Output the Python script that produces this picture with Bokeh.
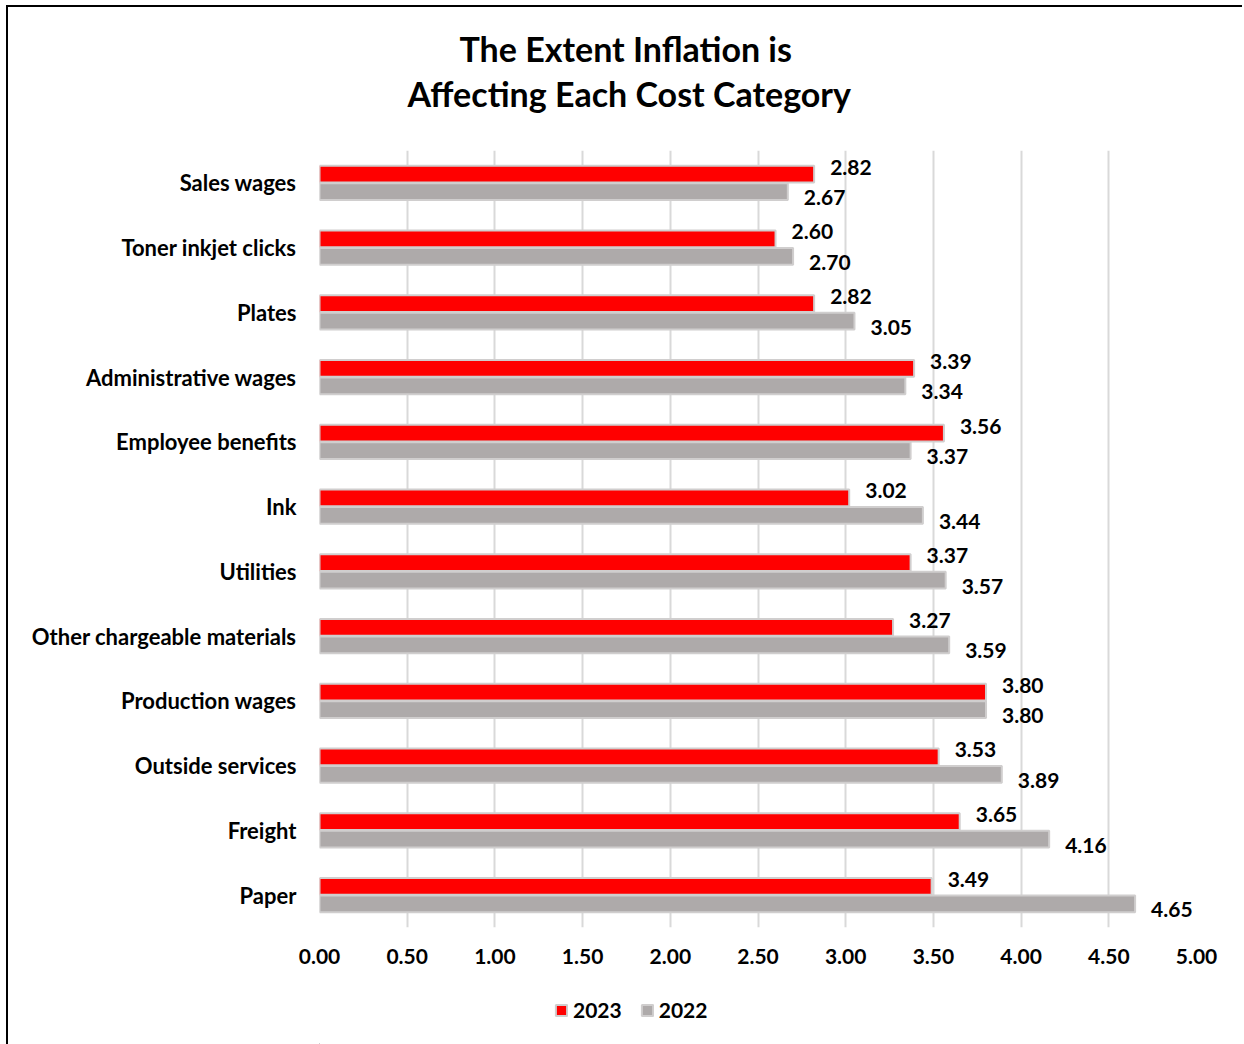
from bokeh.plotting import figure
from bokeh.layouts import column
from bokeh.models import (FactorRange, Range1d, ColumnDataSource, Legend, LegendItem,
                          Title, FixedTicker, NumeralTickFormatter)
from bokeh.transform import dodge
from bokeh.core.properties import value
from bokeh.embed import file_html
from bokeh.resources import INLINE

# ---- data ----
categories = ["Sales wages", "Toner inkjet clicks", "Plates", "Administrative wages",
              "Employee benefits", "Ink", "Utilities", "Other chargeable materials",
              "Production wages", "Outside services", "Freight", "Paper"]
values_2023 = [2.82, 2.60, 2.82, 3.39, 3.56, 3.02, 3.37, 3.27, 3.80, 3.53, 3.65, 3.49]
values_2022 = [2.67, 2.70, 3.05, 3.34, 3.37, 3.44, 3.57, 3.59, 3.80, 3.89, 4.16, 4.65]
x_ticks = [0.0, 0.5, 1.0, 1.5, 2.0, 2.5, 3.0, 3.5, 4.0, 4.5, 5.0]
series_names = ["2023", "2022"]
title_lines = ["The Extent Inflation is", "Affecting Each Cost Category"]

# ---- styles ----
FONT = "Lato"
RED = "#FF0000"
GRAY = "#AEAAAA"
EDGE = "#D0CECE"

src = ColumnDataSource(dict(
    cat=categories,
    v23=values_2023,
    v22=values_2022,
    l23=[f"{v:.2f}" for v in values_2023],
    l22=[f"{v:.2f}" for v in values_2022],
))

# main chart, placed at (8, 7) on the page; frame spans page x 319..1196, y 150..927
p = figure(frame_width=877, frame_height=777,
           y_range=FactorRange(factors=categories[::-1]),
           x_range=Range1d(0, 5),
           output_backend="svg", toolbar_location=None,
           min_border_left=311, min_border_right=48,
           min_border_top=143, min_border_bottom=58)
p.margin = (7, 0, 0, 8)
p.styles = {"box-shadow": "-2px -2px 0 0 black, -2px 0 0 0 black"}
p.outline_line_color = None

p.ygrid.grid_line_color = None
p.xgrid.grid_line_color = "#D9D9D9"
p.xgrid.grid_line_width = 2

for ax in (p.xaxis, p.yaxis):
    ax.axis_line_color = None
    ax.major_tick_line_color = None
    ax.minor_tick_line_color = None
    ax.major_tick_out = 0
    ax.major_tick_in = 0
    ax.major_label_text_font = FONT
    ax.major_label_text_font_style = "bold"
    ax.major_label_text_color = "black"

p.xaxis.major_label_text_font_size = "21px"
p.yaxis.major_label_text_font_size = "22px"
p.xaxis.ticker = FixedTicker(ticks=x_ticks)
p.xaxis.formatter = NumeralTickFormatter(format="0.00")
p.xaxis.major_label_standoff = 21
p.yaxis.major_label_standoff = 23

BH = 0.26
bar23 = dict(fill_color=RED, line_color=EDGE, line_width=2)
bar22 = dict(fill_color=GRAY, line_color=EDGE, line_width=2)
p.hbar(y=dodge("cat", 0.135, range=p.y_range), right="v23", left=0, height=BH,
       source=src, **bar23)
p.hbar(y=dodge("cat", -0.135, range=p.y_range), right="v22", left=0, height=BH,
       source=src, **bar22)

common = dict(text_font=value(FONT), text_font_style="bold", text_font_size="21px",
              text_color="black", text_baseline="middle", text_align="left", source=src)
p.text(x="v23", y=dodge("cat", 0.135, range=p.y_range), text="l23",
       x_offset=16, y_offset=-7, **common)
p.text(x="v22", y=dodge("cat", -0.135, range=p.y_range), text="l22",
       x_offset=16, y_offset=6, **common)

# title: spacer nearest the frame, then line 2, then line 1
spacer = Title(text=" ", standoff=9, text_font=FONT, text_font_size="20px")
t2 = Title(text=title_lines[1], align="left", offset=88, standoff=4,
           text_font=FONT, text_font_style="bold", text_font_size="34px", text_color="black")
t1 = Title(text=title_lines[0], align="left", offset=140, standoff=0,
           text_font=FONT, text_font_style="bold", text_font_size="34px", text_color="black")
p.add_layout(spacer, "above")
p.add_layout(t2, "above")
p.add_layout(t1, "above")

# legend strip below the chart (its series renderers lie entirely outside its own
# ranges, so only the legend keys are visible)
lg = figure(frame_width=1236, frame_height=59,
            x_range=Range1d(10, 11), y_range=Range1d(10, 11),
            x_axis_type=None, y_axis_type=None,
            output_backend="svg", toolbar_location=None,
            min_border_left=0, min_border_right=0, min_border_top=0, min_border_bottom=0)
lg.margin = (0, 0, 0, 8)
lg.styles = {"box-shadow": "-2px 0 0 0 black"}
lg.outline_line_color = None
lg.background_fill_color = "white"
lg.border_fill_color = "white"

k23 = lg.hbar(y="v23", right="v23", left=0, height=0.1, source=src, **bar23)
k22 = lg.hbar(y="v22", right="v22", left=0, height=0.1, source=src, **bar22)

legend = Legend(items=[LegendItem(label=series_names[0], renderers=[k23]),
                       LegendItem(label=series_names[1], renderers=[k22])],
                orientation="horizontal", location=(546, 22),
                glyph_width=14, glyph_height=14, label_standoff=5, spacing=18,
                padding=2, margin=0,
                label_text_font=FONT, label_text_font_style="bold",
                label_text_font_size="21px", label_text_color="black",
                border_line_color=None, background_fill_alpha=0)
lg.add_layout(legend, "center")

page = column(p, lg, spacing=0)
open("out.html", "w").write(file_html(page, INLINE))
